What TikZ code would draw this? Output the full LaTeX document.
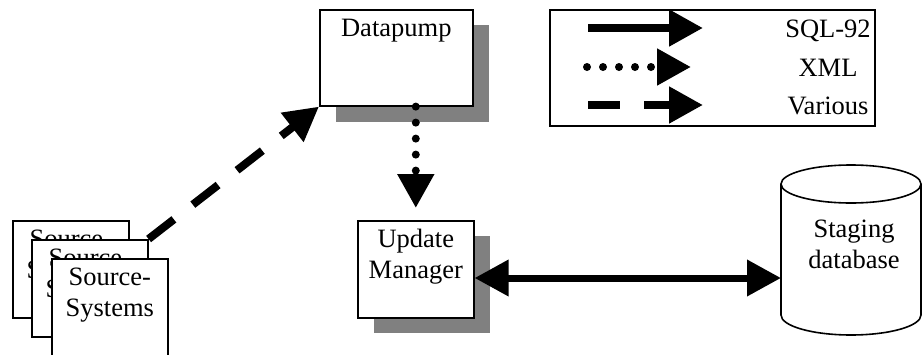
\documentclass[tikz,border=0pt]{standalone}
\usepackage{fontspec}
\setmainfont{Liberation Serif}
\usetikzlibrary{arrows.meta,calc}
\definecolor{shadowgray}{RGB}{128,128,128}
\begin{document}
\begin{tikzpicture}[x=1pt,y=-1pt,
  box/.style={draw,line width=1.6pt,fill=white,minimum width=116pt,minimum height=97pt,anchor=north west,inner sep=0pt},
  shadowbox/.style={fill=shadowgray,draw=none},
  txt/.style={font=\fontsize{26.5}{31}\selectfont,align=center,inner sep=0pt,anchor=base},
  conn/.style={line width=8pt,-{Triangle[length=34pt,width=35pt]}},
  biconn/.style={line width=7pt,{Triangle[length=34pt,width=35pt]}-{Triangle[length=34pt,width=35pt]}},
  dashconn/.style={conn,dash pattern=on 32pt off 24pt},
  dotconn/.style={line width=8pt,line cap=round,dash pattern=on 0pt off 16pt,-{Triangle[length=34pt,width=35pt,sep=12pt]}},
  frame/.style={draw,line width=1.6pt}
]
\useasboundingbox[fill=white] (0,0) rectangle (922,354);

% shadows
\fill[shadowbox] (336,25) rectangle (489,122);
\fill[shadowbox] (374,236) rectangle (490,333);

% source systems stack
\node[box] (s1) at (12,220) {};
\node[txt] (s1t) at ([yshift=-58pt]s1.north) {Source-\\Systems};
\node[box] (s2) at (31,239) {};
\node[txt] (s2t) at ([yshift=-58pt]s2.north) {Source-\\Systems};
\node[box] (s3) at (51,258) {};
\node[txt] (s3t) at ([yshift=-58pt]s3.north) {Source-\\Systems};

% datapump
\node[box,minimum width=153pt,minimum height=96pt] (dp) at (319,9) {};
\node[txt] (dpt) at ([yshift=-27pt]dp.north) {Datapump};

% update manager
\node[box] (um) at (357,220) {};
\node[txt] (umt) at ([yshift=-58pt]um.north) {Update\\Manager};

% staging database cylinder
\draw[line width=1.6pt,fill=white] (781,184) -- (781,315) arc[start angle=180,end angle=0,x radius=70,y radius=20] -- (921,184);
\draw[line width=1.6pt] (851,184) ellipse[x radius=70,y radius=19];
\coordinate (dbw) at (781,278);
\node[txt] (dbt) at (854,268) {Staging\\database};

% connectors
\draw[dashconn] (s2.north east) -- (dp.south west);
\draw[dotconn] (dp.south -| um.north) -- (um.north);
\draw[biconn] (um.east |- dbw) -- (dbw);

% legend
\node[frame,minimum width=325pt,minimum height=116pt,anchor=north west,inner sep=0pt] (leg) at (549,9) {};
\coordinate (la1) at (588,28);
\coordinate (lb1) at (703,28);
\coordinate (la2) at (587,67);
\coordinate (lb2) at (703,67);
\coordinate (la3) at (588,105);
\coordinate (lb3) at (703,105);
\draw[conn] (la1) -- (lb1);
\draw[dotconn] (la2) -- (lb2);
\draw[dashconn] (la3) -- (lb3);
\node[txt] (lsql) at (828,37) {SQL-92};
\node[txt] (lxml) at (828,76) {XML};
\node[txt] (lvar) at (828,114) {Various};
\end{tikzpicture}
\end{document}
